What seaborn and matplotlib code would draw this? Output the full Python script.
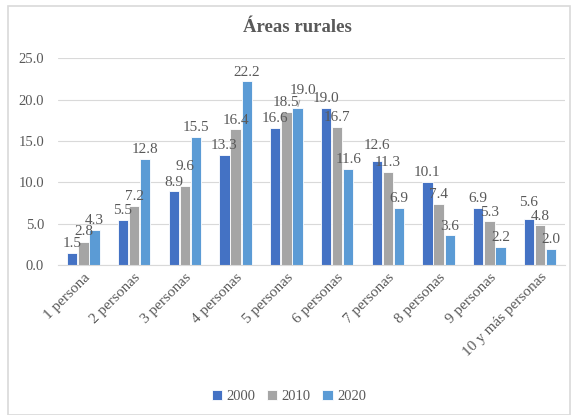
import pandas as pd
import seaborn as sns
import matplotlib.pyplot as plt
from matplotlib.patches import Rectangle

# Datos
categorias = ["1 persona", "2 personas", "3 personas", "4 personas", "5 personas",
              "6 personas", "7 personas", "8 personas", "9 personas", "10 y más personas"]
anios = ["2000", "2010", "2020"]
v2000 = [1.5, 5.5, 8.9, 13.3, 16.6, 19.0, 12.6, 10.1, 6.9, 5.6]
v2010 = [2.8, 7.2, 9.6, 16.4, 18.5, 16.7, 11.3, 7.4, 5.3, 4.8]
v2020 = [4.3, 12.8, 15.5, 22.2, 19.0, 11.6, 6.9, 3.6, 2.2, 2.0]
colores = ["#4472C4", "#A5A5A5", "#5B9BD5"]

df = pd.DataFrame({"categoria": categorias * 3,
                   "anio": [a for a in anios for _ in categorias],
                   "valor": v2000 + v2010 + v2020})

sns.set_style("white")
plt.rcParams['font.family'] = ['Liberation Serif', 'DejaVu Serif']
gris = "#595959"

fig = plt.figure(figsize=(5.86, 4.15), dpi=100)
ax = fig.add_axes([0.099, 0.361, 0.866, 0.499])

sns.barplot(data=df, x="categoria", y="valor", hue="anio", palette=colores,
            saturation=1, width=0.66, gap=0.08, edgecolor="white", linewidth=0.6, ax=ax)

# Etiquetas de valor (algunas subidas un poco, como en el original)
subir = {(1, 2): 7, (0, 9): 5, (0, 6): 4, (1, 0): 1}
for i, cont in enumerate(ax.containers):
    for j, bar in enumerate(cont.patches):
        x = bar.get_x() + bar.get_width() / 2
        y = bar.get_height()
        txt = f"{cont.datavalues[j]:.1f}"
        if i == 2 and j == 4:
            # 5 personas 2020: etiqueta desplazada con línea guía
            ax.annotate(txt, xy=(x, y), xytext=(x + 0.1, y + 1.3),
                        ha="center", va="bottom", fontsize=11, color=gris,
                        arrowprops=dict(arrowstyle="-", color="#A6A6A6", lw=0.8,
                                        shrinkA=0, shrinkB=1))
            continue
        ax.annotate(txt, xy=(x, y), xytext=(0, 2 + subir.get((i, j), 0)),
                    textcoords="offset points", ha="center", va="bottom",
                    fontsize=11, color=gris)

ax.set_ylim(0, 25)
ax.set_yticks([0, 5, 10, 15, 20, 25])
ax.set_yticklabels([f"{t:.1f}" for t in [0, 5, 10, 15, 20, 25]])
ax.yaxis.grid(True, color="#D9D9D9", linewidth=0.8)
ax.set_axisbelow(True)
ax.set_xlabel("")
ax.set_ylabel("")
ax.tick_params(axis="both", length=0, labelsize=10.5, labelcolor=gris)
ax.tick_params(axis="x", labelsize=11, pad=4)
ax.tick_params(axis="y", pad=10)
plt.setp(ax.get_xticklabels(), rotation=45, ha="right", rotation_mode="anchor")
for s in ["top", "right", "left"]:
    ax.spines[s].set_visible(False)
ax.spines["bottom"].set_color("#D9D9D9")

fig.text(297 / 586, 1 - 28 / 415, "Áreas rurales", fontsize=13.5, fontweight="bold",
         color=gris, ha="center", va="center")

ax.legend(loc="center", bbox_to_anchor=(0.455, -0.635), ncol=3, frameon=False,
          fontsize=10.5, handlelength=0.7, handleheight=0.7, handletextpad=0.3,
          columnspacing=0.8, labelcolor=gris)

# Borde del gráfico
fig.patches.append(Rectangle((8 / 586, 0.0), 562 / 586, 1 - 5 / 415 - 0.002,
                             transform=fig.transFigure, fill=False,
                             edgecolor="#D9D9D9", linewidth=1.2))

fig.savefig("out.png", dpi=100)
